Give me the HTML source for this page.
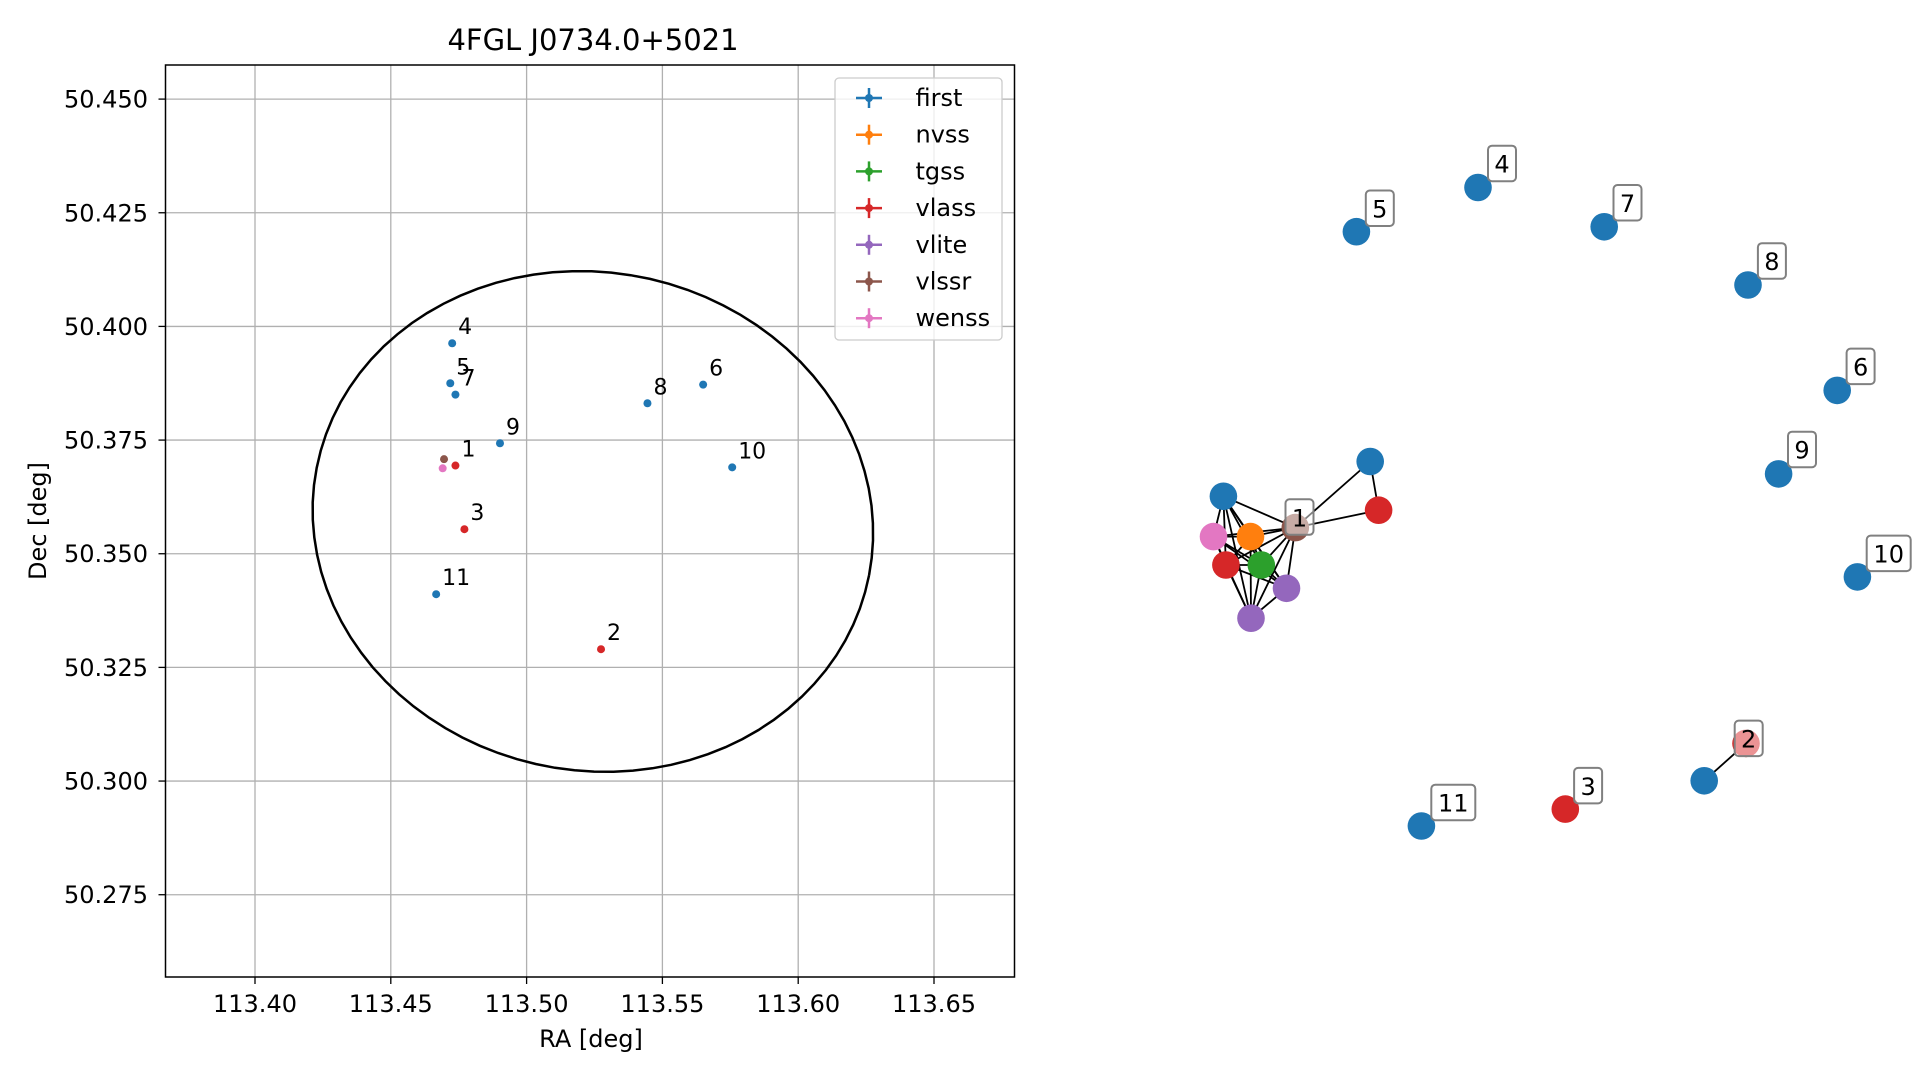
<!DOCTYPE html>
<html><head><meta charset="utf-8"><style>
body{margin:0;background:#fff}
svg{display:block;font-family:"DejaVu Sans","Liberation Sans",sans-serif}
</style></head><body>
<svg id="fig" width="1919" height="1080" viewBox="0 0 1919 1080">
<rect width="1919" height="1080" fill="#fff"/>
<text x="593" y="50" font-size="29" text-anchor="middle">4FGL J0734.0+5021</text>
<g id="grid"></g>
<g id="ellipse"></g>
<g id="points"></g>
<rect x="165.5" y="65" width="849" height="912" fill="none" stroke="#000" stroke-width="1.5"/>
<g id="ticks"></g>
<text x="591" y="1047" font-size="24" text-anchor="middle">RA [deg]</text>
<text x="0" y="0" font-size="24" text-anchor="middle" transform="translate(46,521) rotate(-90)">Dec [deg]</text>
<g id="legend"></g>
<g id="graph"></g>
</svg>
<script>
const NS="http://www.w3.org/2000/svg";
const xTicks=[113.40,113.45,113.50,113.55,113.60,113.65];
const yTicks=[50.275,50.300,50.325,50.350,50.375,50.400,50.425,50.450];
const xTickLabels=["113.40","113.45","113.50","113.55","113.60","113.65"];
const yTickLabels=["50.275","50.300","50.325","50.350","50.375","50.400","50.425","50.450"];
const srcLabels=["4","5","7","9","8","6","10","1","","","3","11","2"];
const srcSurvey=["first","first","first","first","first","first","first","vlass","vlssr","wenss","vlass","first","vlass"];
const srcRA=[113.4726,113.4719,113.4738,113.4902,113.5445,113.5650,113.5757,113.4738,113.4696,113.4691,113.4771,113.4667,113.5274];
const srcDec=[50.3963,50.3875,50.3850,50.3743,50.3831,50.3872,50.3690,50.3694,50.3708,50.3688,50.3554,50.3411,50.3290];
const surveys=["first","nvss","tgss","vlass","vlite","vlssr","wenss"];
const surveyColors=["#1f77b4","#ff7f0e","#2ca02c","#d62728","#9467bd","#8c564b","#e377c2"];
const ellCenter=[113.5244,50.3571];
const ellSemiRA=[0.1036];
const ellSemiDec=[0.0548];
const ellAngleDeg=[11];
function X(v){return 255+(v-113.40)/0.05*135.8;}
function Y(v){return 99.1+(50.45-v)/0.025*113.66;}
function mk(tag,attrs,parent){const e=document.createElementNS(NS,tag);for(const k in attrs)e.setAttribute(k,attrs[k]);parent.appendChild(e);return e;}
const grid=document.getElementById('grid'),ticks=document.getElementById('ticks');
xTicks.forEach((v,i)=>{
 const l=mk('line',{x1:X(v),x2:X(v),y1:65,y2:977,stroke:'#b0b0b0','stroke-width':1.3},grid);
 
 
 mk('line',{x1:X(v),x2:X(v),y1:977,y2:984,stroke:'#000','stroke-width':1.3},ticks);
 const t=mk('text',{x:X(v),y:1012,'font-size':24,'text-anchor':'middle'},ticks);
 t.textContent=xTickLabels[i];
 
 
});
yTicks.forEach((v,i)=>{
 const l=mk('line',{x1:165.5,x2:1014.5,y1:Y(v),y2:Y(v),stroke:'#b0b0b0','stroke-width':1.3},grid);
 
 
 mk('line',{x1:158.5,x2:165.5,y1:Y(v),y2:Y(v),stroke:'#000','stroke-width':1.3},ticks);
 const t=mk('text',{x:148,y:Y(v)+8.5,'font-size':24,'text-anchor':'end'},ticks);
 t.textContent=yTickLabels[i];
 
 
});
const cx=X(ellCenter[0]),cy=Y(ellCenter[1]);
const apx=X(ellCenter[0]+ellSemiRA[0])-cx, bpx=Y(ellCenter[1]-ellSemiDec[0])-cy;
const th=ellAngleDeg[0]*Math.PI/180;
let pts=[];
for(let k=0;k<=90;k++){const t=k/90*2*Math.PI;
 const px=cx+apx*Math.cos(th)*Math.cos(t)-bpx*Math.sin(th)*Math.sin(t);
 const py=cy+apx*Math.sin(th)*Math.cos(t)+bpx*Math.cos(th)*Math.sin(t);
 pts.push(px.toFixed(1)+','+py.toFixed(1));}
const el=mk('polyline',{points:pts.join(' '),fill:'none',stroke:'#000','stroke-width':2.5},document.getElementById('ellipse'));


const P=document.getElementById('points');
srcRA.forEach((ra,i)=>{
 const c=mk('circle',{cx:X(ra),cy:Y(srcDec[i]),r:4,fill:surveyColors[surveys.indexOf(srcSurvey[i])]},P);
 
 
 if(srcLabels[i]){const t=mk('text',{x:X(ra)+6,y:Y(srcDec[i])-9,'font-size':22},P);t.textContent=srcLabels[i];
 
 }
});
const L=document.getElementById('legend');
mk('rect',{x:835,y:78,width:167,height:262,rx:4,fill:'#fff','fill-opacity':0.8,stroke:'#cccccc','stroke-width':1.3},L);
surveys.forEach((s,i)=>{
 const y=98+i*36.7,c=surveyColors[i];
 const g=mk('g',{},L);
 
 
 mk('line',{x1:856,x2:882,y1:y,y2:y,stroke:c,'stroke-width':2.5},g);
 mk('line',{x1:869,x2:869,y1:y-10,y2:y+10,stroke:c,'stroke-width':2.5},g);
 mk('circle',{cx:869,cy:y,r:4,fill:c},g);
 const t=mk('text',{x:915.5,y:y+8,'font-size':24},g);t.textContent=s;
});
// network graph
const gNodeColor=["#1f77b4","#d62728","#8c564b","#1f77b4","#e377c2","#ff7f0e","#d62728","#2ca02c","#9467bd","#9467bd","#1f77b4","#1f77b4","#1f77b4","#1f77b4","#1f77b4","#1f77b4","#1f77b4","#d62728","#1f77b4","#d62728","#1f77b4"];
const gNodeX=[1370.2,1378.6,1295.3,1223.4,1213.5,1250.5,1225.9,1261.3,1286.5,1251,1356.4,1478,1604.2,1748,1837.2,1778.6,1857.4,1746,1704.2,1565.3,1421.4];
const gNodeY=[461.5,510.2,527.6,496.3,536.6,536.6,565.0,565.0,588.3,618.2,231.7,187.5,226.8,285.0,390.4,473.9,576.9,743.4,780.8,809.1,826.0];
const gLabels=["5","4","7","8","6","9","10","2","3","11","1"];
const gLabelX=[1365.8,1488,1613.5,1757.9,1846.6,1788,1866.7,1734.7,1574.1,1431.3,1285.5];
const gLabelY=[190.5,145.7,185.0,243.2,348.6,431.7,535.6,720.6,767.9,784.7,499.3];
const G=document.getElementById('graph');
const edges=[[0,1],[0,2],[1,2],[17,18]];
const cl=[2,3,4,5,6,7,8,9];
for(let a=0;a<cl.length;a++)for(let b=a+1;b<cl.length;b++)edges.push([cl[a],cl[b]]);
edges.forEach(e=>{const l=mk('line',{x1:gNodeX[e[0]],y1:gNodeY[e[0]],x2:gNodeX[e[1]],y2:gNodeY[e[1]],stroke:'#000','stroke-width':1.8},G);
 
 });
gNodeX.forEach((x,i)=>{const c=mk('circle',{cx:x,cy:gNodeY[i],r:13.8,fill:gNodeColor[i]},G);
 
 });
gLabels.forEach((s,i)=>{const w=s.length>1?44:28;
 const g=mk('g',{},G);
 
 
 mk('rect',{x:gLabelX[i],y:gLabelY[i],width:w,height:35.5,rx:4,fill:'#fff','fill-opacity':0.5,stroke:'#808080','stroke-width':2},g);
 const t=mk('text',{x:gLabelX[i]+w/2,y:gLabelY[i]+27,'font-size':24,'text-anchor':'middle'},g);t.textContent=s;});
</script>
</body></html>
